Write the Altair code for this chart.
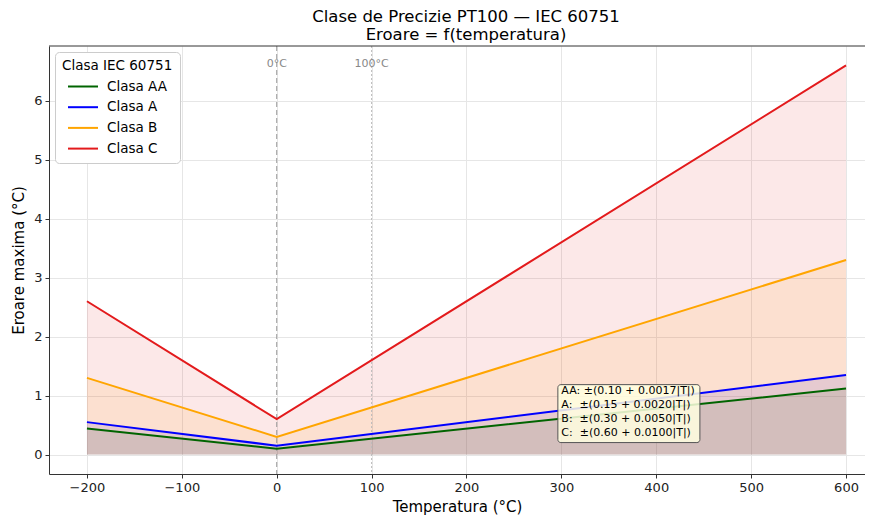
import altair as alt
import pandas as pd

temps = [-200, 0, 600]
classes = ["Clasa AA", "Clasa A", "Clasa B", "Clasa C"]
err_aa = [0.44, 0.10, 1.12]
err_a = [0.55, 0.15, 1.35]
err_b = [1.30, 0.30, 3.30]
err_c = [2.60, 0.60, 6.60]
colors = ["#006400", "#0000ff", "#ffa500", "#e31a1c"]

x_ticks = [-200, -100, 0, 100, 200, 300, 400, 500, 600]
y_ticks = [0, 1, 2, 3, 4, 5, 6]

ref_x = [0, 100]
ref_labels = ["0°C", "100°C"]

box_lines = [
    "AA: ±(0.10 + 0.0017|T|)",
    "A:\u00a0 ±(0.15 + 0.0020|T|)",
    "B:\u00a0 ±(0.30 + 0.0050|T|)",
    "C:\u00a0 ±(0.60 + 0.0100|T|)",
]

rows = []
for name, vals in zip(classes, [err_aa, err_a, err_b, err_c]):
    for t, v in zip(temps, vals):
        rows.append({"T": t, "err": v, "Clasa": name})
df = pd.DataFrame(rows)

FONT = "DejaVu Sans"

xscale = alt.Scale(domain=[-240, 620], nice=False, zero=False)
yscale = alt.Scale(domain=[-0.33, 6.93], nice=False, zero=False)
cscale = alt.Scale(domain=classes, range=colors)

legend = alt.Legend(title="Clasa IEC 60751", orient="none",
                    legendX=6, legendY=6,
                    symbolType="M-0.5,0H2.5", symbolSize=400,
                    symbolStrokeWidth=2, symbolOpacity=1,
                    labelFontSize=13.5, titleFontSize=13.5,
                    titleFontWeight="normal",
                    labelFont=FONT, titleFont=FONT,
                    titleColor="black", labelColor="black",
                    fillColor="white", strokeColor="#cccccc",
                    cornerRadius=4, padding=7,
                    rowPadding=2.7, labelOffset=23,
                    titlePadding=3)

xenc = alt.X("T:Q", scale=xscale, title="Temperatura (°C)",
             axis=alt.Axis(values=x_ticks, format="d", grid=True))
yenc = alt.Y("err:Q", scale=yscale, title="Eroare maxima (°C)",
             axis=alt.Axis(values=y_ticks, format="d", grid=True))
cenc = alt.Color("Clasa:N", scale=cscale, sort=classes, legend=legend)

base = alt.Chart(df)

areas = base.mark_area(opacity=0.1).encode(
    x=xenc, y=yenc, y2=alt.datum(0), color=cenc, detail="Clasa:N",
)

lines = base.mark_line(strokeWidth=2).encode(x=xenc, y=yenc, color=cenc)

ref_df = pd.DataFrame({"x": ref_x, "lab": ref_labels})
rule0 = alt.Chart(ref_df.iloc[[0]]).mark_rule(color="#999999", strokeDash=[5, 3], strokeWidth=1).encode(
    x=alt.X("x:Q", scale=xscale))
rule100 = alt.Chart(ref_df.iloc[[1]]).mark_rule(color="#bbbbbb", strokeDash=[2, 2], strokeWidth=1).encode(
    x=alt.X("x:Q", scale=xscale))
ref_text = alt.Chart(ref_df).mark_text(color="#888888", fontSize=11, font=FONT, baseline="middle").encode(
    x=alt.X("x:Q", scale=xscale), y=alt.value(18), text="lab:N")

top_border = alt.Chart(ref_df.iloc[[0]]).mark_rule(color="#333333", strokeWidth=1).encode(y=alt.value(0))

box = alt.Chart(pd.DataFrame({"x": [296.3], "x2": [446.0], "y": [1.186], "y2": [0.203]})).mark_rect(
    fill="#ffffe0", fillOpacity=0.85, stroke="#555555", strokeWidth=1, cornerRadius=3).encode(
    x=alt.X("x:Q", scale=xscale), x2="x2:Q", y=alt.Y("y:Q", scale=yscale), y2="y2:Q")

box_text = alt.Chart(pd.DataFrame({"x": [300], "y": [1.07], "t": [box_lines]})).mark_text(
    align="left", baseline="middle", fontSize=11, font=FONT, color="black", lineHeight=14).encode(
    x=alt.X("x:Q", scale=xscale), y=alt.Y("y:Q", scale=yscale), text="t")

chart = alt.layer(areas, rule0, rule100, ref_text, lines, box, box_text, top_border).properties(
    width=816, height=428,
    title=alt.TitleParams(["Clase de Precizie PT100 — IEC 60751", "Eroare = f(temperatura)"],
                          fontSize=16.5, fontWeight="normal", font=FONT, color="black",
                          anchor="middle", offset=2, lineHeight=18, dx=9),
    autosize=alt.AutoSizeParams(type="none"),
    padding={"left": 41, "top": 38, "right": 0, "bottom": 45},
).configure_axis(
    labelFont=FONT, titleFont=FONT, labelFontSize=13, titleFontSize=15,
    titleFontWeight="normal", labelColor="#222222", titleColor="black",
    domainColor="#333333", tickColor="#333333", tickSize=4, labelPadding=3,
    gridColor="#e6e6e6", gridWidth=1,
).configure_axisX(titlePadding=5).configure_axisY(titlePadding=7).configure_view(
    stroke=None
)

chart.save("out.html", embed_options={"renderer": "svg", "actions": False})
